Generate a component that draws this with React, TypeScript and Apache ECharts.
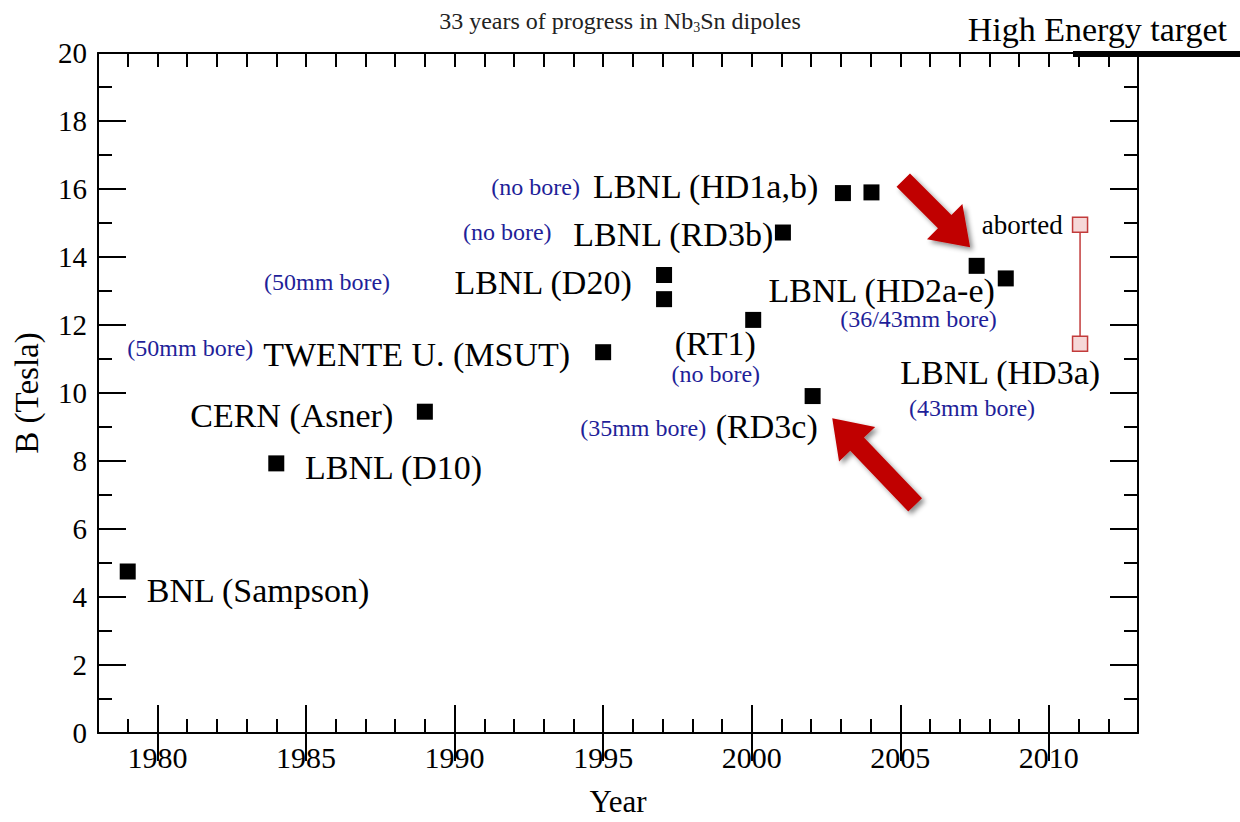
import React, { useEffect, useRef } from 'react';
import * as echarts from 'echarts';

// ---------- data ----------
const pointYears = [1979, 1984, 1989, 1995, 1997.05, 1997.05, 2000.05, 2001.05, 2002.05, 2003.07, 2004.03, 2007.57, 2008.55];
const pointTesla = [4.75, 7.93, 9.45, 11.2, 13.47, 12.76, 12.15, 14.72, 9.91, 15.88, 15.9, 13.74, 13.37];
const pointNames = ['BNL (Sampson)', 'LBNL (D10)', 'CERN (Asner)', 'TWENTE U. (MSUT)', 'LBNL (D20)', '', '(RT1)', 'LBNL (RD3b)', '(RD3c)', 'LBNL (HD1a,b)', '', 'LBNL (HD2a-e)', ''];
const pointBores = ['', '', '', '(50mm bore)', '(50mm bore)', '', '(no bore)', '(no bore)', '(35mm bore)', '(no bore)', '', '(36/43mm bore)', ''];

const hd3Years = [2011.05, 2011.05];
const hd3Tesla = [14.95, 11.45];
const hd3Names = ['aborted', 'LBNL (HD3a)'];
const hd3Bores = ['', '(43mm bore)'];

const arrowTails = [[2005.1, 16.26], [2005.5, 6.71]];
const arrowTips = [[2007.35, 14.29], [2002.71, 9.26]];

const majorYears = [1980, 1985, 1990, 1995, 2000, 2005, 2010];

// ---------- label placement (pixels relative to the marker) ----------
const nameLayout = [
  { align: 'left', dx: 19, dy: 18.5 },
  { align: 'left', dx: 28.7, dy: 4.6 },
  { align: 'right', dx: -31.6, dy: 3.3 },
  { align: 'right', dx: -33, dy: 2 },
  { align: 'right', dx: -32.3, dy: 7 },
  null,
  { align: 'center', dx: -38, dy: 24 },
  { align: 'right', dx: -9.7, dy: 2 },
  { align: 'right', dx: 5.1, dy: 30.6 },
  { align: 'right', dx: -24.7, dy: -6.4 },
  null,
  { align: 'right', dx: 18.2, dy: 24.2 },
  null,
];
const boreLayout = [
  null, null, null,
  { align: 'right', dx: -349.8, dy: -4 },
  { align: 'right', dx: -274, dy: 6.7 },
  null,
  { align: 'center', dx: -37.4, dy: 54.5 },
  { align: 'right', dx: -231.3, dy: -1 },
  { align: 'right', dx: -106.5, dy: 32.2 },
  { align: 'right', dx: -263, dy: -6.4 },
  null,
  { align: 'right', dx: 20.2, dy: 53.2 },
  null,
];
const hd3NameLayout = [
  { align: 'right', dx: -17.4, dy: 0.3, size: 27 },
  { align: 'right', dx: 20, dy: 28.6, size: 34 },
];
const hd3BoreLayout = [null, { align: 'right', dx: -45, dy: 64.3 }];

const FONT = '"Liberation Serif", "Times New Roman", "DejaVu Serif", serif';
const BLUE = '#1f1f99';

function makeLabel(text: string, lay: any, color: string, size: number) {
  if (!text || !lay) return { show: false };
  return {
    show: true,
    formatter: text,
    position: 'inside',
    align: lay.align,
    verticalAlign: 'middle',
    offset: [lay.dx, lay.dy],
    fontSize: size,
    lineHeight: Math.round(size * 0.82),
    fontFamily: FONT,
    color,
    opacity: 1,
    textBorderWidth: 0,
  };
}

export default function App() {
  const ref = useRef<HTMLDivElement>(null);
  useEffect(() => {
    if (!ref.current) return;
    const chart = echarts.init(ref.current, null, { renderer: 'svg' });
    const lineStyle = { color: '#000', width: 2 };
    const baseX: any = {
      type: 'value', min: 1978, max: 2013, gridIndex: 0,
      axisLine: { show: true, onZero: false, lineStyle },
      splitLine: { show: false },
    };
    const minorX = { show: true, inside: true, length: 14, lineStyle };
    const majorX = { show: true, inside: true, length: 28, customValues: majorYears, lineStyle };
    const baseY: any = {
      type: 'value', min: 0, max: 20, interval: 2,
      axisLine: { show: true, onZero: false, lineStyle },
      axisTick: { show: true, inside: true, length: 28, lineStyle },
      minorTick: { show: true, splitNumber: 2, length: 14, lineStyle },
      splitLine: { show: false }, minorSplitLine: { show: false },
    };

    const blueData: any[] = [];
    pointYears.forEach((x, i) => {
      if (pointBores[i]) blueData.push({ value: [x, pointTesla[i]], label: makeLabel(pointBores[i], boreLayout[i], BLUE, 24) });
    });
    hd3Years.forEach((x, i) => {
      if (hd3Bores[i]) blueData.push({ value: [x, hd3Tesla[i]], label: makeLabel(hd3Bores[i], hd3BoreLayout[i], BLUE, 24) });
    });

    const option: any = {
      animation: false,
      backgroundColor: '#fff',
      title: [
        {
          text: '33 years of progress in Nb{s|3}Sn dipoles',
          left: 'center', top: 3,
          textStyle: {
            fontSize: 24, fontWeight: 'normal', fontFamily: FONT, color: '#222', lineHeight: 26,
            rich: { s: { fontSize: 14, fontFamily: FONT, color: '#222', verticalAlign: 'bottom', lineHeight: 14 } },
          },
        },
        {
          text: 'High Energy target', right: 8, top: 7,
          textStyle: { fontSize: 34, fontWeight: 'normal', fontFamily: FONT, color: '#000' },
        },
      ],
      grid: { left: 98, right: 102, top: 53, bottom: 89, containLabel: false, outerBoundsMode: 'none' },
      xAxis: [
        {
          ...baseX, position: 'bottom', interval: 1, axisTick: minorX,
          axisLabel: {
            show: true, customValues: majorYears,
            formatter: (v: number) => (v % 5 === 0 ? String(v) : ''),
            margin: 9, fontSize: 30, fontFamily: FONT, color: '#000',
          },
          name: 'Year', nameLocation: 'middle', nameGap: 53,
          nameTextStyle: { fontSize: 31, fontFamily: FONT, color: '#000' },
        },
        { ...baseX, position: 'bottom', axisLine: { show: false }, axisTick: majorX, axisLabel: { show: false } },
        { ...baseX, position: 'top', interval: 1, axisTick: minorX, axisLabel: { show: false } },
        { ...baseX, position: 'top', axisLine: { show: false }, axisTick: majorX, axisLabel: { show: false } },
      ],
      yAxis: [
        {
          ...baseY, position: 'left',
          axisLabel: { show: true, margin: 11, fontSize: 29, fontFamily: FONT, color: '#000' },
          name: 'B (Tesla)', nameLocation: 'middle', nameGap: 55,
          nameTextStyle: { fontSize: 33, fontFamily: FONT, color: '#000' },
        },
        { ...baseY, position: 'right', axisLabel: { show: false } },
      ],
      graphic: [
        { type: 'line', shape: { x1: 1073, y1: 54, x2: 1240, y2: 54 }, style: { stroke: '#000', lineWidth: 6 }, z: 100 },
      ],
      series: [
        {
          type: 'line', xAxisIndex: 0, yAxisIndex: 0, z: 4,
          symbol: 'rect', symbolSize: 15, showSymbol: true,
          itemStyle: { color: '#f6d8d8', borderColor: '#c23b3b', borderWidth: 1.5, opacity: 1 },
          lineStyle: { color: '#c23b3b', width: 1.5 },
          data: hd3Years.map((x, i) => ({
            value: [x, hd3Tesla[i]],
            label: makeLabel(hd3Names[i], hd3NameLayout[i], '#000', hd3NameLayout[i].size),
          })),
        },
        {
          type: 'scatter', xAxisIndex: 0, yAxisIndex: 0, z: 5,
          symbol: 'rect', symbolSize: 16, itemStyle: { color: '#000', opacity: 1 },
          data: pointYears.map((x, i) => ({
            value: [x, pointTesla[i]],
            label: makeLabel(pointNames[i], nameLayout[i], '#000', 34),
          })),
        },
        {
          type: 'scatter', xAxisIndex: 0, yAxisIndex: 0, z: 5,
          symbol: 'rect', symbolSize: 1, itemStyle: { color: 'rgba(0,0,0,0)', opacity: 1 },
          data: blueData,
        },
        {
          type: 'custom', xAxisIndex: 0, yAxisIndex: 0, z: 10, silent: true,
          encode: { x: [0, 2], y: [1, 3] },
          data: arrowTails.map((t, i) => [t[0], t[1], arrowTips[i][0], arrowTips[i][1]]),
          renderItem: (params: any, api: any) => {
            const a = api.coord([api.value(0), api.value(1)]);
            const b = api.coord([api.value(2), api.value(3)]);
            const dx = b[0] - a[0];
            const dy = b[1] - a[1];
            const len = Math.sqrt(dx * dx + dy * dy);
            const ux = dx / len, uy = dy / len;
            const nx = -uy, ny = ux;
            const headLen = 36, headW = 50, shaftW = 19;
            const cx = b[0] - ux * headLen, cy = b[1] - uy * headLen;
            const pts = [
              [a[0] + nx * shaftW / 2, a[1] + ny * shaftW / 2],
              [cx + nx * shaftW / 2, cy + ny * shaftW / 2],
              [cx + nx * headW / 2, cy + ny * headW / 2],
              [b[0], b[1]],
              [cx - nx * headW / 2, cy - ny * headW / 2],
              [cx - nx * shaftW / 2, cy - ny * shaftW / 2],
              [a[0] - nx * shaftW / 2, a[1] - ny * shaftW / 2],
            ];
            return {
              type: 'polygon',
              shape: { points: pts },
              style: { fill: '#c00000', shadowBlur: 5, shadowColor: 'rgba(0,0,0,0.45)', shadowOffsetX: 3, shadowOffsetY: 3 },
            };
          },
        },
      ],
    };
    chart.setOption(option);
    return () => chart.dispose();
  }, []);
  return <div ref={ref} style={{ position: 'fixed', left: 0, top: 0, width: 1240, height: 822 }} />;
}
